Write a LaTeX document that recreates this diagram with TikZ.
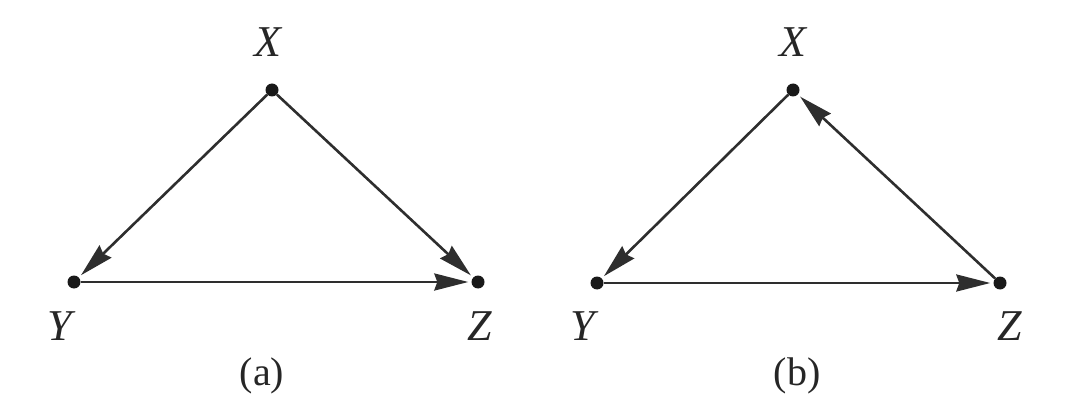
\documentclass[tikz,border=0pt]{standalone}
\usepackage{fontspec}
\setmainfont{Liberation Serif}
\usetikzlibrary{arrows.meta}
\begin{document}
\begin{tikzpicture}[x=1pt,y=-1pt,
  vtx/.style={circle,fill=black!90,inner sep=0pt,minimum size=13pt},
  lbl/.style={font=\fontsize{44}{48}\selectfont\itshape,text=black!85},
  captxt/.style={font=\fontsize{40}{44}\selectfont,text=black!85},
  edge/.style={line width=2.6pt,draw=black!82,-{Stealth[length=34pt,width=17pt,inset=3pt]},shorten >=3pt}]
\useasboundingbox (0,0) rectangle (1068,414);
% (a)
\node[vtx] (aX) at (272,90) {};
\node[vtx] (aY) at (74,282) {};
\node[vtx] (aZ) at (478,282) {};
\node[lbl] (aXl) at (268,42) {X};
\node[lbl] (aYl) at (60,326) {Y};
\node[lbl] (aZl) at (480,326) {Z};
\node[captxt] (acap) at (262,376) {(a)};
\draw[edge] (aX) -- (aY);
\draw[edge] (aX) -- (aZ);
\draw[edge] (aY) -- (aZ);
% (b)
\node[vtx] (bX) at (793,90) {};
\node[vtx] (bY) at (597,283) {};
\node[vtx] (bZ) at (1000,283) {};
\node[lbl] (bXl) at (793,42) {X};
\node[lbl] (bYl) at (583,326) {Y};
\node[lbl] (bZl) at (1010,326) {Z};
\node[captxt] (bcap) at (797,376) {(b)};
\draw[edge] (bX) -- (bY);
\draw[edge] (bZ) -- (bX);
\draw[edge] (bY) -- (bZ);
\end{tikzpicture}
\end{document}
